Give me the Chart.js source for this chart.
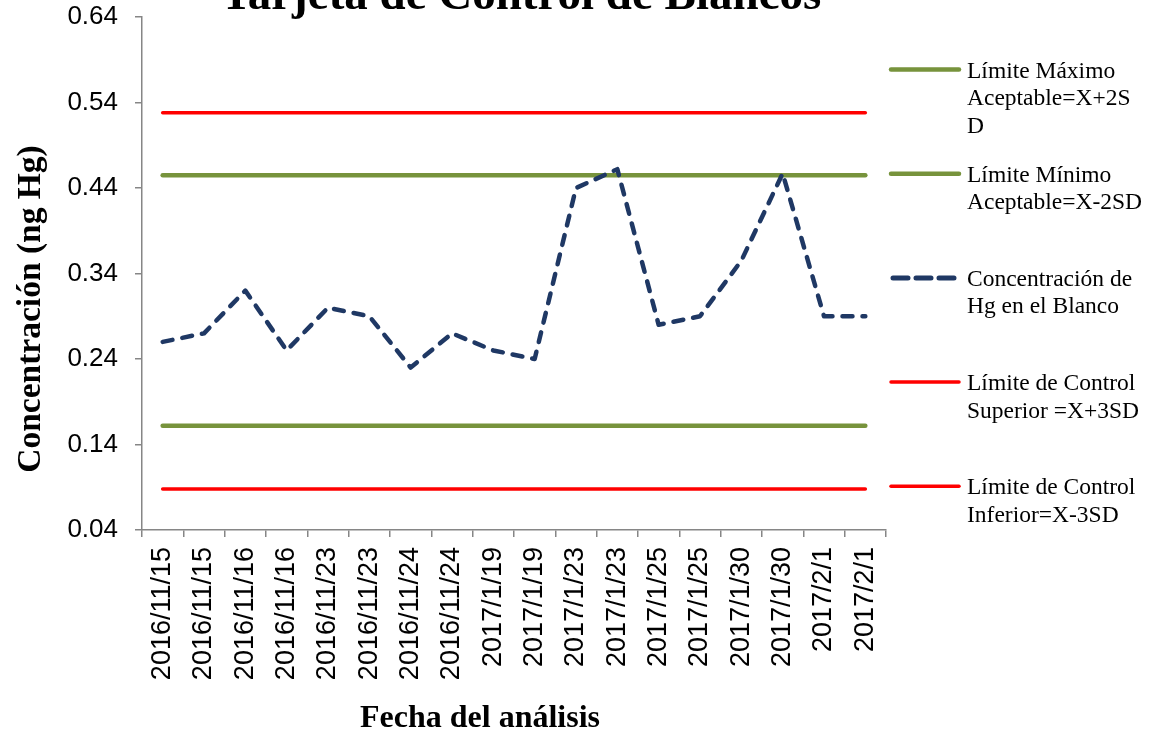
<!DOCTYPE html>
<html>
<head>
<meta charset="utf-8">
<script src="https://cdn.jsdelivr.net/npm/chart.js@4.4.1/dist/chart.umd.min.js"></script>
<style>
  html, body { margin: 0; padding: 0; background: #ffffff; }
  canvas { display: block; }
</style>
</head>
<body>
<canvas id="grafico" width="1152" height="733"></canvas>
<script>
// Textos
const tituloGrafico = 'Tarjeta de Control de Blancos';
const tituloEjeY = 'Concentración (ng Hg)';
const tituloEjeX = 'Fecha del análisis';

// Fechas de análisis (categorías)
const fechas = [
  '2016/11/15', '2016/11/15', '2016/11/16', '2016/11/16',
  '2016/11/23', '2016/11/23', '2016/11/24', '2016/11/24',
  '2017/1/19', '2017/1/19', '2017/1/23', '2017/1/23',
  '2017/1/25', '2017/1/25', '2017/1/30', '2017/1/30',
  '2017/2/1', '2017/2/1'
];

// Concentración de Hg medida en cada blanco (ng Hg)
const concentracionHg = [
  0.26, 0.27, 0.32, 0.25, 0.30, 0.29, 0.23, 0.27, 0.25,
  0.24, 0.44, 0.462, 0.28, 0.29, 0.355, 0.457, 0.29, 0.29
];

// Límites de la carta de control
const limiteMaximoAceptable = 0.455;   // X + 2SD
const limiteMinimoAceptable = 0.162;   // X - 2SD
const limiteControlSuperior = 0.528;   // X + 3SD
const limiteControlInferior = 0.088;   // X - 3SD

// Marcas del eje Y
const marcasY = [0.04, 0.14, 0.24, 0.34, 0.44, 0.54, 0.64];

// Nombres de las series, tal como se reparten en la leyenda
const nombreMaximo = ['Límite Máximo', 'Aceptable=X+2S', 'D'];
const nombreMinimo = ['Límite Mínimo', 'Aceptable=X-2SD'];
const nombreConcentracion = ['Concentración de', 'Hg en el Blanco'];
const nombreSuperior = ['Límite de Control', 'Superior =X+3SD'];
const nombreInferior = ['Límite de Control', 'Inferior=X-3SD'];

const VERDE = '#77933C';
const ROJO = '#FF0000';
const AZUL = '#1F3864';
const GRIS = '#868686';

const constante = v => fechas.map(() => v);

function serieLimite(nombre, valor, color, ancho) {
  return {
    label: nombre.join(' '),
    nombreLineas: nombre,
    data: constante(valor),
    borderColor: color,
    backgroundColor: color,
    borderWidth: ancho,
    borderCapStyle: 'round',
    pointRadius: 0,
    tension: 0,
    order: 1
  };
}

const datasets = [
  serieLimite(nombreMaximo, limiteMaximoAceptable, VERDE, 4.5),
  serieLimite(nombreMinimo, limiteMinimoAceptable, VERDE, 4.5),
  {
    label: nombreConcentracion.join(' '),
    nombreLineas: nombreConcentracion,
    data: concentracionHg,
    borderColor: AZUL,
    backgroundColor: AZUL,
    borderWidth: 4.5,
    borderDash: [10, 10],
    borderCapStyle: 'round',
    borderJoinStyle: 'round',
    pointRadius: 0,
    tension: 0,
    order: 0
  },
  serieLimite(nombreSuperior, limiteControlSuperior, ROJO, 3.5),
  serieLimite(nombreInferior, limiteControlInferior, ROJO, 3.5)
];

// Títulos y leyenda dibujados sobre el lienzo
const textosYLeyenda = {
  id: 'textosYLeyenda',
  afterDraw(chart) {
    const ctx = chart.ctx;
    ctx.save();
    ctx.fillStyle = '#000000';

    // Título principal
    ctx.font = 'bold 47px "Liberation Serif", "Times New Roman", serif';
    ctx.textAlign = 'center';
    ctx.textBaseline = 'alphabetic';
    ctx.fillText(tituloGrafico, 521, 9);

    // Título del eje X
    ctx.font = 'bold 32px "Liberation Serif", "Times New Roman", serif';
    ctx.fillText(tituloEjeX, 480, 727);

    // Título del eje Y
    ctx.font = 'bold 33.5px "Liberation Serif", "Times New Roman", serif';
    ctx.save();
    ctx.translate(40, 309);
    ctx.rotate(-Math.PI / 2);
    ctx.fillText(tituloEjeY, 0, 0);
    ctx.restore();

    // Leyenda
    const x0 = 891, x1 = 959, xTexto = 967;
    const yInicio = 69.5, paso = 104.2, interlinea = 27.5;
    chart.data.datasets.forEach((ds, i) => {
      const y = yInicio + i * paso;
      ctx.save();
      ctx.strokeStyle = ds.borderColor;
      ctx.lineCap = 'round';
      if (ds.borderDash) {
        // tres trazos
        ctx.lineWidth = 5;
        ctx.setLineDash([15, 8]);
        ctx.beginPath();
        ctx.moveTo(x0 + 2, y);
        ctx.lineTo(x0 + 2 + 61, y);
        ctx.stroke();
      } else {
        ctx.lineWidth = ds.borderWidth;
        ctx.beginPath();
        ctx.moveTo(x0, y);
        ctx.lineTo(x1, y);
        ctx.stroke();
      }
      ctx.restore();
      ctx.font = '23.5px "Liberation Serif", "Times New Roman", serif';
      ctx.textAlign = 'left';
      ctx.textBaseline = 'alphabetic';
      ds.nombreLineas.forEach((linea, k) => {
        ctx.fillText(linea, xTexto, y + 8 + k * interlinea);
      });
    });
    ctx.restore();
  }
};

function sinRelleno(scale) {
  scale.paddingTop = 0;
  scale.paddingBottom = 0;
  scale.paddingLeft = 0;
  scale.paddingRight = 0;
}

new Chart(document.getElementById('grafico'), {
  type: 'line',
  data: { labels: fechas, datasets: datasets },
  options: {
    responsive: false,
    animation: false,
    devicePixelRatio: 1,
    layout: { padding: { top: 17, right: 266, left: 0, bottom: 0 } },
    plugins: {
      legend: { display: false },
      tooltip: { enabled: false },
      title: { display: false }
    },
    scales: {
      x: {
        type: 'category',
        offset: true,
        grid: {
          offset: true,
          drawOnChartArea: false,
          drawTicks: true,
          tickLength: 7,
          color: GRIS,
          lineWidth: 1.5
        },
        border: { color: GRIS, width: 1.5 },
        ticks: {
          autoSkip: false,
          minRotation: 90,
          maxRotation: 90,
          padding: 10,
          color: '#000000',
          font: { family: '"Liberation Sans", Arial, sans-serif', size: 27 }
        },
        afterFit(scale) { scale.height = 203; sinRelleno(scale); }
      },
      y: {
        type: 'linear',
        min: marcasY[0],
        max: marcasY[marcasY.length - 1],
        afterBuildTicks(scale) { scale.ticks = marcasY.map(v => ({ value: v })); },
        grid: {
          drawOnChartArea: false,
          drawTicks: true,
          tickLength: 7,
          color: GRIS,
          lineWidth: 1.5
        },
        border: { color: GRIS, width: 1.5 },
        ticks: {
          padding: 17,
          color: '#000000',
          font: { family: '"Liberation Sans", Arial, sans-serif', size: 26 },
          callback: v => Number(v).toFixed(2)
        },
        afterFit(scale) { scale.width = 142; sinRelleno(scale); }
      }
    }
  },
  plugins: [textosYLeyenda]
});
</script>
</body>
</html>
